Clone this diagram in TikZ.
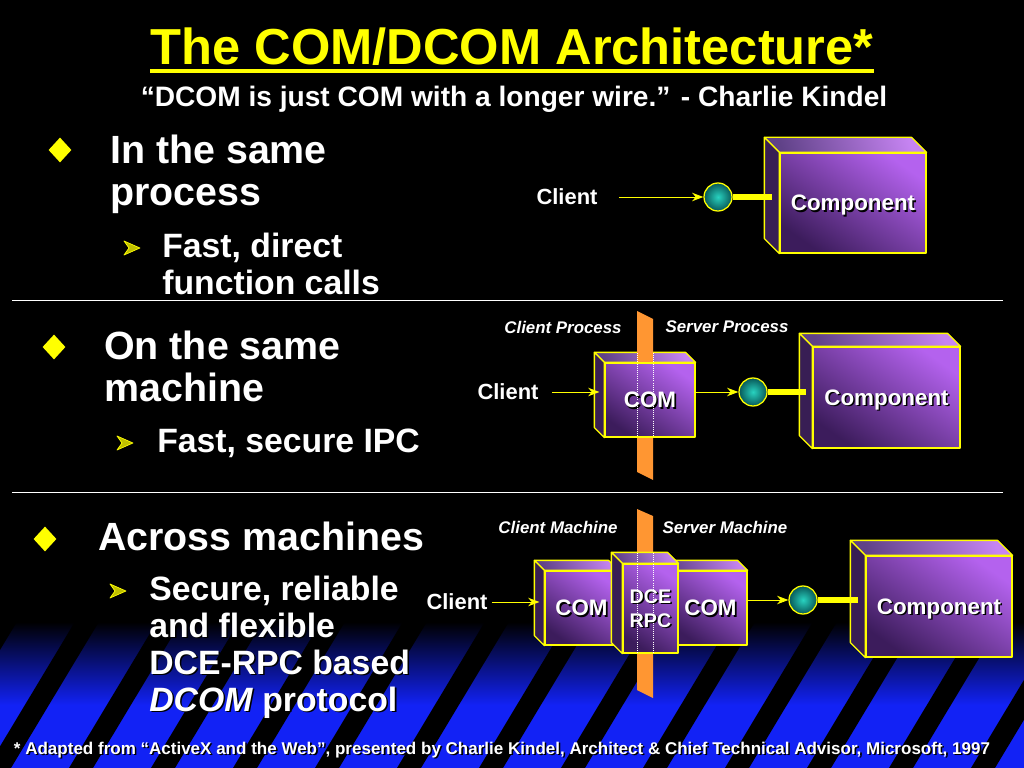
\documentclass[tikz,border=0pt]{standalone}
\usepackage{fontspec}
\setmainfont{Liberation Sans}
\usetikzlibrary{arrows.meta,shapes.geometric}

\definecolor{slideyellow}{RGB}{255,255,0}
\definecolor{slideblue}{RGB}{18,34,245}
\definecolor{boxdark}{RGB}{60,28,92}
\definecolor{boxlight}{RGB}{180,98,238}
\definecolor{boxtopdark}{RGB}{96,66,136}
\definecolor{boxtoplight}{RGB}{198,132,242}
\definecolor{boxside}{RGB}{56,30,84}
\definecolor{ballin}{RGB}{40,210,192}
\definecolor{ballout}{RGB}{8,88,88}
\definecolor{wallorange}{RGB}{255,150,50}

\newlength{\px}
\setlength{\px}{0.025cm}

\newcommand{\shadowed}[1]{\leavevmode\rlap{\kern1.1pt\raisebox{-1.1pt}{\color{black}#1}}#1}

\newcommand{\boxsides}[2]{%
	\filldraw[boxedge,top color=boxtoplight,bottom color=boxtopdark,shading angle=-70] (#1.north west) -- ++(-#2,-#2) -- ([shift={(-#2,-#2)}]#1.north east) -- (#1.north east) -- cycle;
	\filldraw[boxedge,fill=boxside] (#1.north west) -- ++(-#2,-#2) -- ([shift={(-#2,-#2)}]#1.south west) -- (#1.south west) -- cycle;
}

\pgfdeclarelayer{bg}
\pgfdeclarelayer{sides}
\pgfdeclarelayer{wallback}
\pgfsetlayers{bg,sides,wallback,main}

\tikzset{
	titletext/.style={anchor=base,inner sep=0,text=slideyellow,font=\fontsize{36}{40}\selectfont\bfseries},
	quotetext/.style={anchor=base,inner sep=0,text=white,font=\fontsize{20}{24}\selectfont\bfseries},
	bodytext/.style={anchor=base west,inner sep=0,align=left,text=white,font=\fontsize{28}{29.8}\selectfont\bfseries},
	subtext/.style={anchor=base west,inner sep=0,align=left,text=white,font=\fontsize{24}{26.2}\selectfont\bfseries},
	foottext/.style={anchor=base,inner sep=0,text=white,font=\fontsize{12.1}{14}\selectfont\bfseries},
	clienttext/.style={inner sep=0,text=white,font=\fontsize{15.6}{18}\selectfont\bfseries},
	zonetext/.style={inner sep=0,text=white,font=\fontsize{12}{14}\selectfont\bfseries\itshape},
	diamondbullet/.style={diamond,fill=slideyellow,minimum width=23\px,minimum height=25\px,inner sep=0},
	boxedge/.style={draw=slideyellow,line width=0.9pt,line join=round},
	boxfront/.style={boxedge,top color=boxlight,bottom color=boxdark,shading angle=-35,inner sep=0,text depth=0pt,align=center,text=white,font=\fontsize{15.9}{17}\selectfont\bfseries},
	ball/.style={circle,draw=slideyellow,line width=0.9pt,inner color=ballin,outer color=ballout,minimum size=28\px,inner sep=0},
	wire/.style={draw=slideyellow,line width=0.7pt,-{Stealth[length=8pt,width=6pt,inset=2.5pt]}},
	bar/.style={draw=slideyellow,line width=4pt},
	wall/.style={fill=wallorange},
	seam/.style={draw=white,line width=0.5pt,densely dotted},
	rule/.style={draw=white,line width=0.7pt},
	subarrow/.pic={
		\fill[slideyellow!75!black] (-8,-7) -- (8,0) -- (-8,7) -- (-3,0) -- cycle;
		\draw[slideyellow,line width=0.5pt,line join=round] (-8,-7) -- (8,0) -- (-8,7) -- (-3,0) -- cycle;
	}
}

\begin{document}
\begin{tikzpicture}[x=0.025cm,y=-0.025cm]
	\begin{pgfonlayer}{bg}
		\fill[black] (0,0) rectangle (1024,768);
		\fill[top color=black,bottom color=slideblue] (0,622) rectangle (1024,705);
		\fill[slideblue] (0,705) rectangle (1024,768);
		\begin{scope}
			\clip (0,605) rectangle (1024,768);
			\foreach \s in {-177,-95,...,1053}
				\fill[black] (\s,768) -- ++(24,0) -- ++(92,-153) -- ++(-24,0) -- cycle;
		\end{scope}
	\end{pgfonlayer}
	\useasboundingbox (0,0) rectangle (1024,768);

	\node[titletext] (title) at (512,65) {The COM/DCOM Architecture*};
	\draw[slideyellow,line width=2.6pt] ([yshift=-4.3pt]title.base west) -- ([yshift=-4.3pt]title.base east);
	\node[quotetext] (quote) at (514,107) {“DCOM is just COM with a longer wire.” - Charlie Kindel};

	\draw[rule] (12,300) -- (1003,300);
	\draw[rule] (12,492) -- (1003,492);

	\node[diamondbullet] (b1) at (60,150) {};
	\node[bodytext] (sec1) at (110,205) {In the same\\process};
	\pic at (132,248) {subarrow};
	\node[subtext] (sub1) at (162,294) {Fast, direct\\function calls};

	\node[diamondbullet] (b2) at (54,347) {};
	\node[bodytext] (sec2) at (104,401) {On the same\\machine};
	\pic at (125,443) {subarrow};
	\node[subtext] (sub2) at (157,452) {Fast, secure IPC};

	\node[diamondbullet] (b3) at (45,539) {};
	\node[bodytext] (sec3) at (98,550) {Across machines};
	\pic at (118,591) {subarrow};
	\node[subtext] (sub3) at (149,711) {\shadowed{Secure, reliable}\\\shadowed{and flexible}\\\shadowed{DCE-RPC based}\\\shadowed{\textit{DCOM} protocol}};

	\node[foottext] (foot) at (502,754) {\shadowed{* Adapted from “ActiveX and the Web”, presented by Charlie Kindel, Architect \& Chief Technical Advisor, Microsoft, 1997}};

	% same process
	\node[clienttext] (client1) at (567,197) {Client};
	\node[ball] (ball1) at (718,197) {};
	\node[boxfront,minimum width=146\px,minimum height=100\px] (comp1) at (853,203) {\shadowed{Component}};
	\boxsides{comp1}{15}
	\draw[wire,shorten <=15pt] (client1.east) -- (ball1.west);
	\draw[bar,shorten >=5pt] (ball1.east) -- (ball1.east -| comp1.west);

	% same machine
	\node[zonetext] (cproc) at (563,327) {Client Process};
	\node[zonetext] (sproc) at (727,327) {Server Process};
	\node[clienttext] (client2) at (508,392) {Client};
	\node[boxfront,minimum width=90\px,minimum height=74\px] (com2) at (650,400) {\shadowed{COM}};
	\begin{pgfonlayer}{sides}
		\boxsides{com2}{10}
	\end{pgfonlayer}
	\begin{pgfonlayer}{wallback}
		\fill[wall] (637,311) -- (653,319) -- (653,480) -- (637,472) -- cycle;
	\end{pgfonlayer}
	\draw[seam] (637,353) -- (637,437);
	\draw[seam] (653,353) -- (653,437);
	\node[ball] (ball2) at (753,392) {};
	\node[boxfront,minimum width=147\px,minimum height=101\px] (comp2) at (886.5,397.5) {\shadowed{Component}};
	\boxsides{comp2}{13}
	\draw[wire,shorten <=9.5pt,shorten >=3.5pt] (client2.east) -- (client2.east -| com2.west);
	\draw[wire] (com2.east |- ball2) -- (ball2.west);
	\draw[bar,shorten >=4.2pt] (ball2.east) -- (ball2.east -| comp2.west);

	% across machines
	\node[zonetext] (cmach) at (558,527) {Client Machine};
	\node[zonetext] (smach) at (725,527) {Server Machine};
	\node[clienttext] (client3) at (457,602) {Client};
	\begin{pgfonlayer}{wallback}
		\fill[wall] (637,509) -- (653,516) -- (653,698) -- (637,690) -- cycle;
	\end{pgfonlayer}
	\node[boxfront,minimum width=73\px,minimum height=74\px] (com3a) at (581.5,608) {\shadowed{COM}};
	\boxsides{com3a}{10}
	\node[boxfront,minimum width=73\px,minimum height=74\px] (com3b) at (710.5,608) {\shadowed{COM}};
	\boxsides{com3b}{10}
	\node[boxfront,minimum width=55\px,minimum height=89\px,font=\fontsize{14}{17}\selectfont\bfseries] (dce) at (650.5,608.5) {\shadowed{DCE}\\\shadowed{RPC}};
	\boxsides{dce}{11}
	\draw[seam] (637,553) -- (637,653);
	\draw[seam] (653,553) -- (653,653);
	\node[ball] (ball3) at (803,600) {};
	\node[boxfront,minimum width=146\px,minimum height=101\px] (comp3) at (939,606.5) {\shadowed{Component}};
	\boxsides{comp3}{15}
	\draw[wire,shorten <=3pt,shorten >=3.5pt] (client3.east) -- (client3.east -| com3a.west);
	\draw[wire] (com3b.east |- ball3) -- (ball3.west);
	\draw[bar,shorten >=5.6pt] (ball3.east) -- (ball3.east -| comp3.west);
\end{tikzpicture}
\end{document}
